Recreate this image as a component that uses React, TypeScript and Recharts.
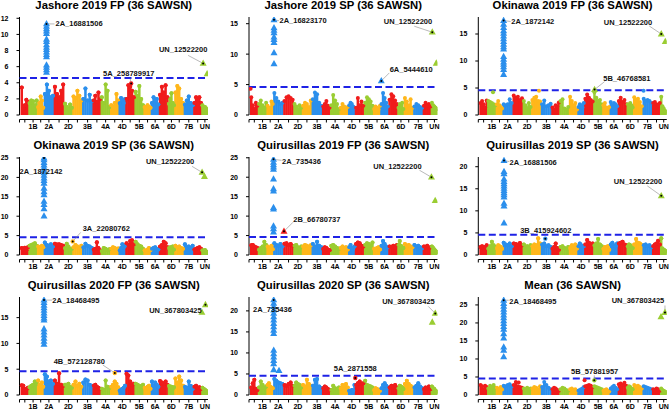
import React from 'react';
import { ComposedChart, Bar, Scatter, XAxis, YAxis, ReferenceLine } from 'recharts';

// ---------- chromosomes ----------
const CHROMS = ['1A','1B','1D','2A','2B','2D','3A','3B','3D','4A','4B','4D','5A','5B','5D','6A','6B','6D','7A','7B','7D','UN'];
const CHROM_LEN = [594,690,496,781,801,652,751,831,616,745,674,510,710,713,566,618,721,474,737,751,639,481];
const CHROM_COLORS = ['#F01C1C', '#9ACD32', '#FFB71B', '#2B8FEC'];
const THRESHOLD = 4.6;
const FRACS = [0.1, 0.3, 0.5, 0.7, 0.9];

const TITLES = [
  'Jashore 2019 FP (36 SAWSN)', 'Jashore 2019 SP (36 SAWSN)', 'Okinawa 2019 FP (36 SAWSN)',
  'Okinawa 2019 SP (36 SAWSN)', 'Quirusillas 2019 FP (36 SAWSN)', 'Quirusillas 2019 SP (36 SAWSN)',
  'Quirusillas 2020 FP (36 SAWSN)', 'Quirusillas 2020 SP (36 SAWSN)', 'Mean (36 SAWSN)',
];
const Y_TICKS = [
  [0,2,4,6,8,10,12], [0,5,10,15], [0,5,10,15],
  [0,5,10,15,20,25], [0,5,10,15,20,25], [0,5,10,15,20],
  [0,5,10,15], [0,5,10,15,20], [0,5,10,15,20,25],
];
const Y_MAX = [12.16, 16.1, 18.15, 25.26, 25.2, 22.2, 19.0, 23.3, 27.2];

// ---------- background SNP envelopes (5 per chromosome) ----------
const BLOB_P1 = [
  [3.4,0.8,1.2,1.9,1.6],[1.5,1.8,1.7,1.2,1.8],[1.0,1.5,2.3,1.8,0.9],[2.6,3.8,3.0,2.2,2.4],
  [3.5,2.6,2.2,3.0,3.8],[1.4,1.0,0.8,1.3,0.9],[2.3,2.1,3.0,2.4,1.8],[2.0,3.3,1.8,2.5,1.7],
  [1.8,2.4,1.6,2.8,2.0],[2.2,1.5,3.8,3.0,1.0],[1.2,1.0,1.5,2.6,1.8],[1.5,2.1,1.8,1.5,2.0],
  [2.0,3.7,3.5,3.0,2.2],[2.9,2.4,3.6,2.0,1.2],[1.0,0.8,1.2,1.0,0.9],[1.5,2.2,1.8,2.0,1.3],
  [2.5,3.5,2.8,3.7,2.2],[1.4,2.0,2.7,1.5,1.2],[2.8,3.6,3.3,2.0,1.5],[1.3,1.8,2.3,1.5,1.2],
  [1.5,2.2,1.9,2.2,1.5],[1.2,0.9,1.0,0.8,0.6],
];
const BLOB_P2 = [
  [2.9,1.6,1.0,2.0,1.5],[1.8,2.4,1.6,1.2,2.0],[1.5,1.0,1.2,2.2,1.8],[3.6,2.8,2.2,1.8,2.0],
  [2.3,2.9,3.1,2.8,2.5],[1.8,1.4,1.0,1.6,1.2],[1.5,2.0,1.8,1.3,2.4],[2.6,3.7,3.4,2.0,1.5],
  [1.4,1.8,2.3,1.5,1.2],[1.6,3.3,2.4,1.8,1.0],[1.2,1.8,1.4,1.0,1.3],[1.6,2.0,1.8,1.4,1.2],
  [1.2,2.8,1.6,2.2,1.5],[2.0,2.9,2.6,2.2,1.5],[1.0,1.4,1.2,0.9,1.5],[1.8,3.6,2.8,2.0,1.4],
  [2.5,3.4,3.1,2.4,1.8],[1.2,1.8,1.4,2.0,1.0],[2.8,2.2,1.6,2.6,1.2],[1.4,1.8,1.6,1.3,1.2],
  [1.5,2.0,1.6,1.8,1.4],[2.0,1.6,1.4,1.2,1.0],
];
const BLOB_P3 = [
  [2.2,2.6,2.0,1.4,2.7],[2.6,2.4,2.2,2.0,1.8],[2.0,2.6,1.8,1.5,1.2],[2.0,1.8,2.0,2.9,2.2],
  [3.6,3.2,3.4,2.8,3.1],[2.6,1.8,1.3,2.2,1.5],[2.8,3.2,3.4,2.6,2.5],[2.0,2.7,1.6,1.8,2.1],
  [1.4,1.0,1.8,1.6,2.3],[2.6,2.9,1.2,1.0,1.5],[3.4,2.6,1.8,2.2,1.0],[1.5,2.0,1.8,1.4,2.2],
  [3.0,3.8,3.2,2.8,2.5],[4.2,3.2,2.6,2.8,2.0],[1.8,2.2,1.4,1.2,1.5],[2.4,1.8,2.2,2.0,1.6],
  [2.6,3.2,2.4,2.8,2.0],[2.0,1.5,2.2,1.8,1.4],[3.3,2.8,3.0,2.4,1.6],[3.0,2.6,2.8,2.6,2.2],
  [2.2,2.4,2.0,1.8,2.2],[3.4,1.6,1.2,0.8,0.6],
];
const BLOB_P4 = [
  [1.8,1.5,1.9,1.2,2.0],[2.4,2.6,2.8,3.0,2.4],[2.2,2.0,1.8,2.4,2.0],[3.2,2.6,2.4,2.8,2.2],
  [2.9,2.7,2.8,2.6,2.4],[1.8,2.9,2.2,1.5,1.6],[2.0,2.6,2.2,1.8,2.4],[2.0,2.9,2.4,2.2,1.8],
  [1.4,1.6,3.3,1.8,1.2],[1.0,1.8,1.6,1.2,1.5],[1.6,2.0,1.8,1.4,1.7],[1.2,1.8,2.8,2.0,2.4],
  [3.0,2.6,3.6,3.8,2.8],[3.4,2.8,2.4,2.2,1.6],[1.2,1.0,1.4,1.8,1.2],[1.6,1.8,2.0,1.6,1.4],
  [2.2,2.6,3.4,3.0,2.0],[1.8,2.0,1.6,2.2,1.4],[2.4,2.0,2.2,1.8,1.6],[2.8,2.0,2.2,1.8,2.4],
  [1.4,1.6,1.8,2.0,1.6],[1.2,1.0,1.3,0.9,0.7],
];
const BLOB_P5 = [
  [2.5,2.6,2.2,2.0,1.8],[1.4,1.8,2.2,3.4,2.6],[2.2,1.6,1.8,2.4,1.5],[3.0,2.6,2.4,2.8,2.2],
  [2.9,3.0,2.6,2.8,2.4],[2.4,2.6,2.0,1.8,2.2],[2.2,2.6,2.4,2.0,2.5],[2.8,2.2,3.4,2.4,2.0],
  [1.6,2.0,1.8,1.4,1.2],[2.4,2.6,2.2,1.8,1.6],[1.8,2.2,1.6,2.0,1.4],[2.0,2.6,1.8,1.6,2.2],
  [2.8,3.2,3.0,2.4,2.2],[2.6,3.0,2.8,2.4,3.2],[1.6,1.2,1.8,2.0,1.4],[2.4,3.6,2.8,2.2,2.0],
  [2.2,2.0,2.4,1.8,2.6],[2.6,3.6,2.4,2.0,1.8],[2.8,2.4,2.6,2.2,2.0],[2.6,2.2,2.4,2.0,1.8],
  [2.2,2.0,2.4,1.8,2.0],[2.2,1.8,1.4,1.0,0.8],
];
const BLOB_P6 = [
  [1.8,2.0,1.5,1.8,2.2],[1.5,2.0,3.0,2.2,1.8],[1.6,2.2,2.0,1.8,1.4],[2.8,2.4,2.2,2.6,2.0],
  [2.6,2.5,2.3,2.7,2.2],[2.4,1.8,2.0,1.6,2.2],[2.0,2.4,2.2,3.8,2.6],[2.4,2.6,2.0,2.2,1.8],
  [1.5,1.8,2.6,1.6,1.2],[1.8,2.0,1.6,1.4,1.8],[1.6,2.2,1.8,2.4,1.5],[2.0,2.6,2.2,1.8,2.0],
  [2.4,3.4,2.8,2.2,2.6],[2.2,2.6,3.6,2.4,2.0],[1.4,1.8,1.6,2.0,1.2],[2.4,2.8,2.2,2.0,2.6],
  [2.6,2.8,3.0,2.4,2.2],[2.0,2.4,2.2,1.8,1.6],[2.4,3.6,2.8,2.6,2.2],[2.2,2.4,2.0,2.2,1.8],
  [2.0,2.4,2.6,3.2,2.4],[3.8,1.5,1.2,1.0,0.8],
];
const BLOB_P7 = [
  [1.9,1.8,1.2,1.0,1.4],[1.5,1.8,2.0,2.6,2.2],[2.8,2.0,1.8,2.4,1.6],[4.0,3.6,2.6,2.8,2.2],
  [2.8,2.2,4.2,2.0,1.8],[2.0,1.8,2.2,1.6,1.4],[2.0,2.6,1.8,2.2,1.6],[2.4,3.0,2.8,2.0,1.8],
  [1.8,2.0,1.6,1.4,1.2],[1.2,1.0,2.8,1.6,1.4],[1.6,2.0,2.6,2.2,1.5],[0.8,1.0,1.2,1.4,1.8],
  [4.1,3.8,2.6,2.0,2.2],[2.2,2.0,1.8,1.6,2.0],[1.4,1.2,1.6,1.8,1.2],[2.6,1.8,2.4,2.0,1.6],
  [2.7,2.4,2.2,2.6,2.0],[1.8,1.4,1.6,1.2,1.5],[3.2,2.4,3.6,2.8,1.8],[1.6,1.4,2.6,1.8,1.2],
  [1.6,1.8,1.4,1.5,1.2],[1.4,1.2,1.0,0.8,0.6],
];
const BLOB_P8 = [
  [1.8,2.8,3.6,1.5,1.2],[1.8,3.2,2.4,1.6,2.0],[2.4,2.8,2.0,1.8,1.6],[3.8,3.4,3.0,2.8,2.6],
  [2.4,2.2,2.6,3.0,2.2],[2.2,3.0,2.6,2.4,1.8],[2.4,2.0,3.6,2.6,2.2],[2.2,3.6,3.8,2.0,1.6],
  [1.6,2.0,1.8,1.4,1.2],[1.2,2.2,1.6,1.4,1.8],[1.6,2.4,2.2,2.6,1.8],[1.0,0.8,1.2,1.0,2.4],
  [2.4,2.8,3.2,2.6,2.8],[3.4,2.4,2.2,2.0,1.8],[1.2,1.6,1.4,1.2,1.0],[1.6,2.4,2.8,2.2,1.8],
  [1.8,2.2,2.0,2.4,1.8],[1.6,2.2,2.0,1.8,1.4],[2.6,3.4,2.6,2.2,1.8],[1.8,2.2,2.8,2.0,1.6],
  [1.4,1.8,1.6,2.0,1.4],[2.0,1.6,1.4,1.0,0.8],
];
const BLOB_P9 = [
  [2.8,2.4,1.6,2.6,2.2],[1.8,2.6,2.2,2.8,2.0],[2.0,1.6,1.8,2.2,1.5],[2.6,2.4,2.8,3.0,2.4],
  [2.8,3.6,2.4,2.2,2.0],[1.8,1.6,2.0,1.4,1.8],[1.8,2.2,2.0,1.6,2.4],[2.2,3.6,2.8,2.0,1.6],
  [1.6,2.0,1.8,1.4,1.2],[1.6,2.0,1.8,1.4,1.2],[1.6,1.8,1.4,1.6,1.2],[1.2,1.4,1.6,1.8,2.2],
  [2.4,2.6,2.8,2.6,2.2],[2.4,2.2,2.0,1.8,1.6],[1.2,1.4,1.6,1.2,1.0],[1.8,2.2,2.6,2.0,1.6],
  [3.0,3.2,2.8,3.4,2.6],[2.0,2.4,2.2,1.8,1.6],[2.8,2.4,2.6,2.2,1.8],[2.4,2.2,2.0,1.8,1.6],
  [1.6,1.4,1.8,1.6,1.2],[1.8,1.4,1.2,1.0,0.8],
];
const BLOBS = [BLOB_P1, BLOB_P2, BLOB_P3, BLOB_P4, BLOB_P5, BLOB_P6, BLOB_P7, BLOB_P8, BLOB_P9];

// ---------- significant SNPs (triangles): [chrom, pos Mb, values] ----------
const TRI_P1 = [['2A',204,[11.0,10.7,10.4,10.1,9.4,9.1,8.7,8.4,8.1,7.8,7.5,7.2,6.2,5.9,5.6,5.3]],['UN',415,[5.1]]];
const TRI_P2 = [['2A',48,[14.3,13.9,13.5,12.8,12.4,11.9,10.2,8.4]],['UN',385,[8.5]]];
const TRI_P3 = [['2A',72,[16.8,16.2,15.6,15.1,14.6,14.1,13.6,13.1,12.6,12.2,10.8,10.3,9.8,9.4,8.9,8.4,7.5]],['UN',362,[13.6]]];
const TRI_P4 = [['2A',10,[24.5,23.8,23.2,22.5,21.8,21.2,20.5,19.8,19.2,18.5,17.2,16.3,15.5,13.8,13.0,11.9,10.0]],['UN',206,[20.2]]];
const TRI_P5 = [['2A',10,[23.8,23.2,22.6,22.0,19.5,17.0,16.4,12.2,11.8,7.4,6.7,5.9]],['UN',300,[14.0]]];
const TRI_P6 = [['2A',103,[18.9,18.4,17.2,16.6,16.1,15.6,15.1,14.6,14.1,13.6,13.1,11.7,11.1,7.2]]];
const TRI_P7 = [['2A',10,[17.9,17.4,16.9,16.4,15.9,15.4,14.9,14.5,12.8,12.2,11.6,11.0,10.4,9.8]],['UN',5,[16.0]]];
const TRI_P8 = [['2A',25,[21.8,21.0,20.2,19.4,18.6,17.8,17.0,16.2,15.4,14.6,10.6,9.8,9.0,8.2,7.4,6.0]],['2A',437,[5.8]],['UN',74,[17.3]]];
const TRI_P9 = [['2A',80,[25.4,24.6,23.8,23.0,22.2,21.4,20.6,19.8,19.0,18.2,17.0,15.8,13.3,12.4,10.6]],['UN',28,[21.7]]];
const TRIS = [TRI_P1, TRI_P2, TRI_P3, TRI_P4, TRI_P5, TRI_P6, TRI_P7, TRI_P8, TRI_P9];

// ---------- isolated points above the background: [chrom, pos, value] ----------
const EXTRAS = [
  [],
  [['1A',10,4.3]],
  [['1B',433,4.2],['3A',592,4.5],['7B',64,4.5]],
  [],
  [],
  [],
  [],
  [],
  [['5A',10,4.1],['2B',465,3.5]],
];

// ---------- annotated SNPs: [chrom, pos, value, name, kind] ----------
const ANN_P1 = [['2A',204,11.3,'2A_16881506','tri'],['UN',104,6.4,'UN_12522200','tri'],['5A',432,3.9,'5A_258789917','dot']];
const ANN_P2 = [['2A',48,15.65,'2A_16823170','tri'],['UN',74,13.6,'UN_12522200','tri'],['6A',47,5.6,'6A_5444610','tri']];
const ANN_P3 = [['2A',72,17.5,'2A_1872142','tri'],['UN',51,15.0,'UN_12522200','tri'],['5B',78,4.7,'5B_46768581','tri']];
const ANN_P4 = [['2A',10,25.0,'2A_1872142','tri'],['UN',20,21.3,'UN_12522200','tri'],['3A',10,3.5,'3A_22080762','dot']];
const ANN_P5 = [['2A',10,24.6,'2A_735436','tri'],['2B',45,6.1,'2B_66780737','tri'],['UN',10,20.0,'UN_12522200','tri']];
const ANN_P6 = [['2A',103,21.4,'2A_16881506','tri'],['UN',51,13.4,'UN_12522200','tri'],['3B',331,3.7,'3B_415924602','dot']];
const ANN_P7 = [['2A',10,18.4,'2A_18468495','tri'],['UN',283,17.5,'UN_367803425','tri'],['4B',341,4.27,'4B_572128780','dot']];
const ANN_P8 = [['2A',25,22.6,'2A_735436','tri'],['UN',307,19.4,'UN_367803425','tri'],['5A',12,4.05,'5A_2871558','dot']];
const ANN_P9 = [['2A',80,26.3,'2A_18468495','tri'],['UN',339,22.9,'UN_367803425','tri'],['5B',57,4.07,'5B_57881957','dot']];
const ANNS = [ANN_P1, ANN_P2, ANN_P3, ANN_P4, ANN_P5, ANN_P6, ANN_P7, ANN_P8, ANN_P9];

// label placement relative to the point: [dx, dy, anchor, leaderDx, leaderDy]
const ANN_LAYOUT = [
  [[9,2.4,'start',8,0],[-20,-11,'middle',-15,-8],[-2.4,-7.3,'middle',-1,-5]],
  [[5.5,3.5,'start',5,1],[-24.3,-8.3,'middle',-18,-6],[8.4,-8.7,'start',8,-8]],
  [[7.7,3.3,'start',7,1],[-33.3,-9.3,'middle',-12,-8],[32.3,-8.3,'middle',10,-8]],
  [[-3,15.6,'middle',0,0],[-32,-8.3,'middle',-10,-6],[10,-10,'start',8,-9]],
  [[8.6,4.4,'start',8,1],[9.3,-9.3,'start',9,-9],[-34,-8.3,'middle',-12,-7]],
  [[5.6,4,'start',5,1],[-23.3,-11.7,'middle',-14,-10],[0.5,-6,'middle',0,0]],
  [[8.3,3,'start',8,0],[-30,8.3,'middle',0,0],[-35.5,-9,'middle',-12,-8]],
  [[-1.2,11.7,'middle',0,0],[-26.8,-9.3,'middle',-7,-7],[0,-7.3,'middle',0,0]],
  [[5.6,3.3,'start',5,0],[-27,-9,'middle',0,-7],[0.4,-6.7,'middle',0,-5]],
];

// ---------- layout ----------
const PANEL_W = 223;
const PANEL_H = 140;
const AXIS_X = [19.5, 26, 32.3];
const PLOT_W = 188.5;
const PLOT_TOP = 20;
const ZERO_Y = 118;
const XAXIS_Y = 122.5;
const X_PAD = 117;
const COLUMN_W = 2.5;

const OFFSETS: number[] = [];
CHROM_LEN.forEach((l, i) => OFFSETS.push(i === 0 ? 0 : OFFSETS[i - 1] + CHROM_LEN[i - 1]));
const TOTAL = OFFSETS[OFFSETS.length - 1] + CHROM_LEN[CHROM_LEN.length - 1];
const CENTERS = CHROM_LEN.map((l, i) => OFFSETS[i] + l / 2);
const X_TICKS = [-X_PAD, ...CENTERS];
const colorOf = (c: number) => CHROM_COLORS[c % 4];
const cidx = (name: string) => CHROMS.indexOf(name);

const fmtX = (v: number) => {
  const i = CENTERS.indexOf(v);
  return i >= 0 && i % 2 === 1 ? CHROMS[i] : '';
};

const triPts = (cx: number, cy: number) =>
  `${cx},${cy - 3.9} ${cx - 3.5},${cy + 2.4} ${cx + 3.5},${cy + 2.4}`;

const ColumnShape = (p: any) => {
  if (p.x == null || p.height == null) return null;
  const c = p.payload ? p.payload.c : p.c;
  const mid = p.x + p.width / 2;
  return <rect x={mid - COLUMN_W / 2} y={p.y} width={COLUMN_W} height={Math.max(0, p.height)} fill={colorOf(c)} />;
};
const DotShape = (p: any) => {
  if (p.cx == null || p.cy == null) return null;
  return <circle cx={p.cx} cy={p.cy} r={2} fill={colorOf(p.payload.c)} />;
};
const TriShape = (p: any) => {
  if (p.cx == null || p.cy == null) return null;
  return <polygon points={triPts(p.cx, p.cy)} fill={colorOf(p.payload.c)} />;
};
const AnnShape = (p: any) => {
  if (p.cx == null || p.cy == null) return null;
  const { cx, cy, payload } = p;
  const [dx, dy, anchor, lx, ly] = payload.layout;
  const col = colorOf(payload.c);
  return (
    <g>
      {lx || ly ? <line x1={cx} y1={cy} x2={cx + lx} y2={cy + ly} stroke="#8a8a8a" strokeWidth={0.6} /> : null}
      {payload.kind === 'tri'
        ? <polygon points={triPts(cx, cy)} fill={col} />
        : <circle cx={cx} cy={cy} r={2.2} fill={col} />}
      <circle cx={cx} cy={cy} r={1} fill="#000" />
      <text x={cx + dx} y={cy + dy} textAnchor={anchor} fontSize={7.5} fontWeight="bold" fill="#111">
        {payload.name}
      </text>
    </g>
  );
};

function Panel({ idx }: { idx: number }) {
  const col = idx % 3;
  const row = Math.floor(idx / 3);
  const axisX = AXIS_X[col];
  const ymax = Y_MAX[idx];
  const ymin = -ymax * (XAXIS_Y - ZERO_Y) / (ZERO_Y - PLOT_TOP);

  const blobRows: any[] = [];
  BLOBS[idx].forEach((vals, c) =>
    vals.forEach((v, k) => blobRows.push({ x: OFFSETS[c] + FRACS[k] * CHROM_LEN[c], v, c }))
  );
  const triRows: any[] = [];
  TRIS[idx].forEach(([ch, pos, vals]: any) =>
    vals.forEach((v: number) => triRows.push({ x: OFFSETS[cidx(ch)] + pos, v, c: cidx(ch) }))
  );
  const extraRows = EXTRAS[idx].map(([ch, pos, v]: any) => ({ x: OFFSETS[cidx(ch)] + pos, v, c: cidx(ch) }));
  const annRows = ANNS[idx].map(([ch, pos, v, name, kind]: any, i: number) => ({
    x: OFFSETS[cidx(ch)] + pos, v, c: cidx(ch), name, kind, layout: ANN_LAYOUT[idx][i],
  }));

  return (
    <div style={{ position: 'absolute', left: col * PANEL_W, top: row * 140 - 3, width: PANEL_W, height: PANEL_H }}>
      <ComposedChart
        width={PANEL_W}
        height={PANEL_H}
        data={blobRows}
        margin={{ top: PLOT_TOP, right: PANEL_W - axisX - PLOT_W, bottom: 0, left: 0 }}
      >
        <XAxis
          type="number"
          dataKey="x"
          domain={[-X_PAD, TOTAL]}
          allowDataOverflow
          ticks={X_TICKS}
          interval={0}
          tickFormatter={fmtX}
          tickSize={3}
          tickMargin={1.5}
          height={PANEL_H - XAXIS_Y}
          stroke="#000"
          tick={{ fontSize: 7, fontWeight: 'bold', fill: '#000' }}
        />
        <YAxis
          type="number"
          domain={[ymin, ymax]}
          allowDataOverflow
          ticks={Y_TICKS[idx]}
          interval={0}
          width={axisX}
          tickSize={3}
          tickMargin={8}
          axisLine={false}
          stroke="#000"
          tick={{ fontSize: 7, fontWeight: 'bold', fill: '#000' }}
        />
        <ReferenceLine
          segment={[{ x: -X_PAD, y: 0 }, { x: -X_PAD, y: ymax }]}
          stroke="#000"
          strokeWidth={1}
          ifOverflow="visible"
        />
        <Bar dataKey="v" barSize={2} shape={ColumnShape} isAnimationActive={false} />
        <Scatter data={blobRows} dataKey="v" shape={DotShape} isAnimationActive={false} />
        <Scatter data={extraRows} dataKey="v" shape={DotShape} isAnimationActive={false} />
        <ReferenceLine y={THRESHOLD} stroke="#1E22E6" strokeWidth={2} strokeDasharray="7 3.5" />
        <Scatter data={triRows} dataKey="v" shape={TriShape} isAnimationActive={false} />
        <Scatter data={annRows} dataKey="v" shape={AnnShape} isAnimationActive={false} />
      </ComposedChart>
      <div
        style={{
          position: 'absolute', left: axisX - 40, width: PLOT_W + 80, top: 2.8,
          textAlign: 'center', fontSize: 11.3, lineHeight: '11.3px', fontWeight: 'bold',
          whiteSpace: 'nowrap', color: '#000',
        }}
      >
        {TITLES[idx]}
      </div>
    </div>
  );
}

export default function App() {
  return (
    <div
      style={{
        position: 'absolute', left: 0, top: 0, width: 669, height: 410, overflow: 'hidden',
        background: '#fff', fontFamily: '"Liberation Sans", Arial, sans-serif',
      }}
    >
      {TITLES.map((t, i) => (
        <Panel key={t} idx={i} />
      ))}
    </div>
  );
}
